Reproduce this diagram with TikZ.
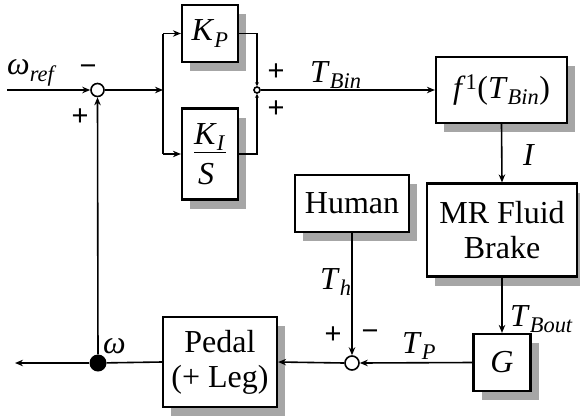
\documentclass[tikz,border=0pt]{standalone}
\usepackage{fontspec}
\setmainfont{Liberation Serif}
\newfontfamily\signfont{Liberation Sans}
\usetikzlibrary{arrows.meta,shadows}
\newcommand{\ms}[2]{\textit{#1}\textsubscript{\textit{#2}}}
\begin{document}
\begin{tikzpicture}[x=1pt,y=-1pt,
  font=\fontsize{32}{35}\selectfont,
  blk/.style={draw, line width=2.2pt, fill=white, inner sep=0pt, align=center,
    drop shadow={shadow xshift=8pt, shadow yshift=-9pt, fill=gray!70, opacity=1}},
  sumc/.style={draw, circle, line width=1.6pt, fill=white, inner sep=0pt},
  arr/.style={line width=1.6pt, -{Stealth[length=8pt,width=6.5pt]}},
  ln/.style={line width=1.6pt},
  sgn/.style={font=\signfont\fontsize{29}{31}\selectfont, inner sep=0pt},
  lbl/.style={anchor=base west, inner sep=0pt}]
\useasboundingbox (0,0) rectangle (580,415);
% blocks
\node[blk, minimum width=56pt, minimum height=57pt] (kp) at (210,33.5) {\ms{K}{P}};
\node[blk, minimum width=56pt, minimum height=91pt] (ki) at (210,154) {$\vcenter{\hbox{\underline{\textit{K}\textsubscript{\textit{I}}}}\vskip5pt\hbox{\hspace{4pt}\textit{S}}}$};
\node[blk, minimum width=131pt, minimum height=66pt] (f) at (501.5,90) {\textit{f}\textsuperscript{1}(\ms{T}{Bin})};
\node[blk, minimum width=150pt, minimum height=93pt] (mr) at (502,230) {MR Fluid\\Brake};
\node[blk, minimum width=114pt, minimum height=57pt] (human) at (352,203.5) {Human};
\node[blk, minimum width=57pt, minimum height=57pt] (g) at (502,362.5) {\textit{G}};
\node[blk, minimum width=114pt, minimum height=90pt] (pedal) at (220,362) {Pedal\\(+ Leg)};
% summing points
\node[sumc, minimum size=13pt] (s1) at (97.5,90) {};
\node[sumc, minimum size=6pt] (s2) at (257,90) {};
\node[sumc, minimum size=14pt] (s3) at (352,363) {};
\node[circle, fill=black, inner sep=0pt, minimum size=17pt] (dot) at (98,363) {};
% coordinates
\coordinate (in) at (7,90);
\coordinate (br) at (163,90);
\coordinate (brT) at (163,33.5);
\coordinate (brB) at (163,154);
\coordinate (out) at (15,363);
% connectors
\draw[arr] (in) -- (s1.west);
\draw[arr] (s1.east) -- (br);
\draw[ln] (brT) -- (brB);
\draw[arr] (brT) -- (kp.west);
\draw[arr] (brB) -- (ki.west);
\draw[ln, -{Stealth[length=4pt,width=4pt]}] (kp.east) -| (s2.north);
\draw[ln, -{Stealth[length=4pt,width=4pt]}] (ki.east) -| (s2.south);
\draw[arr] (s2.east) -- (f.west);
\draw[arr] (f.south) -- (mr.north);
\draw[arr] (mr.south) -- (g.north);
\draw[arr] (g.west) -- (s3.east);
\draw[arr] (human.south) -- (s3.north);
\draw[arr] (s3.west) -- (pedal.east);
\draw[ln] (pedal.west) -- (dot);
\draw[arr] (dot) -- (out);
\draw[arr] (dot) -- (s1.south);
% labels
\node[lbl] (lwref) at (7,74) {\textit{ω}\textsubscript{\textit{ref}}};
\node[sgn] (m1) at (88,70) {−};
\node[sgn] (p1) at (80,117) {+};
\node[sgn] (p2) at (276,72) {+};
\node[sgn] (p3) at (276,109) {+};
\node[lbl] (ltbin) at (310,82) {\ms{T}{Bin}};
\node[lbl] (li) at (523,165) {\textit{I}};
\node[lbl] (ltbout) at (510,326) {\ms{T}{Bout}};
\node[lbl] (lth) at (320,289) {\ms{T}{h}};
\node[sgn] (p4) at (333,335) {+};
\node[sgn] (m2) at (370,335) {−};
\node[lbl] (ltp) at (402,353) {\ms{T}{P}};
\node[lbl] (lw) at (103,353) {\textit{ω}};
\end{tikzpicture}
\end{document}
